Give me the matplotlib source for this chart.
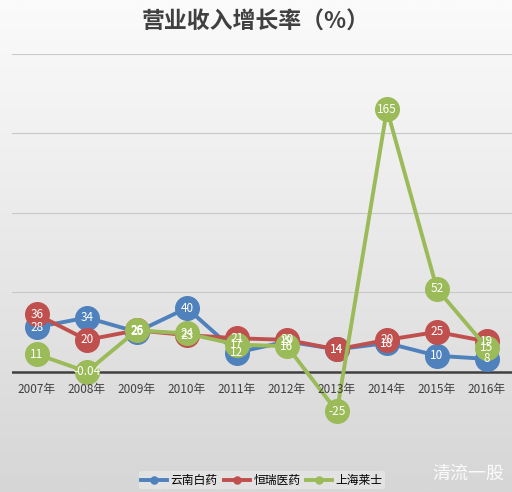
import numpy as np
import matplotlib.pyplot as plt

plt.rcParams['font.family'] = ['Noto Sans CJK SC', 'DejaVu Sans']

years = ['2007年', '2008年', '2009年', '2010年', '2011年', '2012年', '2013年', '2014年', '2015年', '2016年']
yunnan = [28, 34, 25, 40, 12, 19, 14, 18, 10, 8]
hengrui = [36, 20, 26, 23, 21, 20, 14, 20, 25, 19]
laishi = [11, -0.04, 26, 24, 17, 16, -25, 165, 52, 15]
names = ['云南白药', '恒瑞医药', '上海莱士']
colors = ['#4f81bd', '#c0504d', '#9bbb59']

fig = plt.figure(figsize=(5.12, 4.92), dpi=100)

# gradient background
bg = fig.add_axes([0, 0, 1, 1], zorder=-10)
grad = np.linspace(0, 1, 256).reshape(-1, 1)
bg.imshow(grad, aspect='auto', cmap=plt.matplotlib.colors.LinearSegmentedColormap.from_list(
    'bg', ['#fbfbfb', '#d6d6d6']), extent=[0, 1, 0, 1])
bg.axis('off')

ax = fig.add_axes([0.023, 0.083, 0.977, 0.808])
ax.patch.set_alpha(0)
x = np.arange(len(years))

for vals, c, n in zip([yunnan, hengrui, laishi], colors, names):
    ax.plot(x, vals, color=c, lw=2.8, marker='o', ms=17, label=n, zorder=3)
    for xi, v in zip(x, vals):
        lbl = '-0.04' if v == -0.04 else str(int(v))
        ax.text(xi, v, lbl, color='white', ha='center', va='center', fontsize=8.5, zorder=4)

ax.set_xlim(-0.5, len(years) - 0.5)
ax.set_ylim(-50, 200)
ax.set_yticks([-50, 50, 100, 150, 200])
ax.grid(axis='y', color='#c8c8c8', lw=0.8)
ax.axhline(0, color='#404040', lw=1.8, zorder=2)
ax.set_xticks([])
ax.tick_params(axis='y', length=0, labelleft=False)
for s in ax.spines.values():
    s.set_visible(False)

for xi, yr in zip(x, years):
    ax.annotate(yr, (xi, 0), xytext=(0, -13), textcoords='offset points',
                ha='center', va='center', fontsize=8.5, color='#404040')

fig.text(0.5, 0.955, '营业收入增长率（%）', ha='center', va='center', fontsize=16.5,
         color='#404040', fontweight='bold')

leg = ax.legend(loc='center', bbox_to_anchor=(0.5, -0.073), ncol=3, frameon=True,
                fontsize=8.5, handlelength=2.2, columnspacing=0.5, handletextpad=0.3,
                borderpad=0.2, markerscale=0.3)
leg.get_frame().set_facecolor('#e6e6e6')
leg.get_frame().set_edgecolor('none')

fig.text(0.915, 0.037, '清流一股', ha='center', va='center', fontsize=13,
         color='white', alpha=0.9)

fig.savefig('out.png', dpi=100)
